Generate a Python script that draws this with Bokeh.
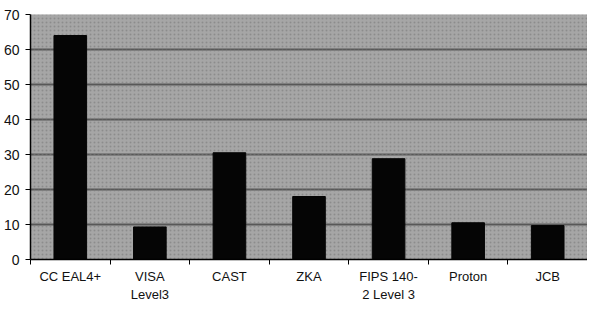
from bokeh.plotting import figure
from bokeh.models import Range1d, FixedTicker, BoxAnnotation
from bokeh.embed import file_html
from bokeh.resources import INLINE

categories = ["CC EAL4+", "VISA\nLevel3", "CAST", "ZKA", "FIPS 140-\n2 Level 3", "Proton", "JCB"]
values = [64, 9.3, 30.5, 18, 28.8, 10.5, 9.7]
y_ticks = [0, 10, 20, 30, 40, 50, 60, 70]

n = len(categories)
centers = [i + 0.5 for i in range(n)]
bounds = list(range(n + 1))

p = figure(width=587, height=304, output_backend="svg", toolbar_location=None,
           x_range=Range1d(0, n), y_range=Range1d(0, 70))
p.min_border_left = 30
p.min_border_right = 0
p.min_border_top = 14
p.min_border_bottom = 30
p.outline_line_color = None
p.background_fill_color = "#acacac"
p.border_fill_color = "white"

p.add_layout(BoxAnnotation(fill_color="#a0a0a0", fill_alpha=0.5, line_color=None,
                           hatch_pattern="dot", hatch_color="#7c7c7c", hatch_scale=4,
                           hatch_alpha=0.6, level="underlay"))

p.vbar(x=centers, top=values, width=0.41, bottom=0, fill_color="#050505", line_color="#050505")

# x axis
p.xaxis.ticker = FixedTicker(ticks=centers, minor_ticks=bounds)
p.xaxis.major_label_overrides = {c: lab for c, lab in zip(centers, categories)}
p.xaxis.major_tick_out = 0
p.xaxis.major_tick_in = 0
p.xaxis.minor_tick_out = 5
p.xaxis.minor_tick_in = 0
p.xaxis.minor_tick_line_color = "black"
p.xaxis.axis_line_color = "black"
p.xaxis.axis_line_width = 1.5
p.xaxis.major_label_standoff = 4
p.xaxis.major_label_text_font = "Liberation Sans"
p.xaxis.major_label_text_font_size = "13px"
p.xaxis.major_label_text_color = "#111"
p.xaxis.major_label_text_line_height = 1.2

# y axis
p.yaxis.ticker = FixedTicker(ticks=y_ticks)
p.yaxis.minor_tick_line_color = None
p.yaxis.major_tick_out = 5
p.yaxis.major_tick_in = 0
p.yaxis.axis_line_color = "black"
p.yaxis.axis_line_width = 1.5
p.yaxis.major_label_standoff = 6
p.yaxis.major_label_text_font = "Liberation Sans"
p.yaxis.major_label_text_font_size = "14px"
p.yaxis.major_label_text_color = "#111"

p.xgrid.grid_line_color = None
p.ygrid.ticker = FixedTicker(ticks=[10, 20, 30, 40, 50, 60])
p.ygrid.grid_line_color = "#111"
p.ygrid.grid_line_width = 1.8
p.ygrid.level = "underlay"

open("out.html", "w").write(file_html(p, INLINE))
